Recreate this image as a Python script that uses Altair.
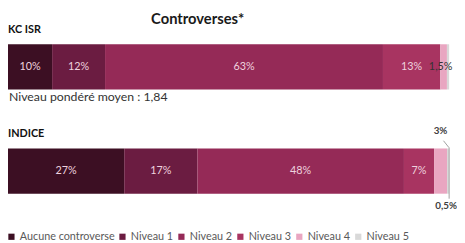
import altair as alt
import pandas as pd

rows = ["KC ISR", "INDICE"]
categories = ["Aucune controverse", "Niveau 1", "Niveau 2", "Niveau 3", "Niveau 4", "Niveau 5"]
kc_values = [10, 12, 63, 13, 1.5, 0.5]
indice_values = [27, 17, 48, 7, 3, 0.5]
kc_labels = ["10%", "12%", "63%", "13%", "1,5%", ""]
indice_labels = ["27%", "17%", "48%", "7%", "3%", "0,5%"]
colors = ["#3c0f23", "#6b1c41", "#952a57", "#a83461", "#e9a6c1", "#d9d9d9"]
title_text = "Controverses*"
note_text = "Niveau pondéré moyen : 1,84"

records = []
for row, vals, labs in [(rows[0], kc_values, kc_labels), (rows[1], indice_values, indice_labels)]:
    for i, (c, v, l) in enumerate(zip(categories, vals, labs)):
        records.append({"row": row, "cat": c, "order": i, "value": v, "label": l})
df = pd.DataFrame(records)

FONT = "Lato"

xs = alt.Scale(domain=[0, 1], nice=False, zero=False)
ys = alt.Scale(domain=rows, paddingInner=0.566, paddingOuter=0.391, align=0.42)
Y = alt.Y("row:N", scale=ys, axis=None)

base = (
    alt.Chart(df)
    .transform_joinaggregate(total="sum(value)", groupby=["row"])
    .transform_window(cum="sum(value)", sort=[alt.SortField("order")], groupby=["row"], frame=[None, 0])
    .transform_calculate(
        start="(datum.cum - datum.value) / datum.total",
        end="datum.cum / datum.total",
        mid="(datum.cum - datum.value / 2) / datum.total",
    )
)

bars = base.mark_bar().encode(
    x=alt.X("start:Q", scale=xs, axis=None),
    x2="end:Q",
    y=Y,
    color=alt.Color(
        "cat:N",
        scale=alt.Scale(domain=categories, range=colors),
        sort=categories,
        legend=alt.Legend(title=None),
    ),
)

main_labels = base.transform_filter("datum.order <= 3").mark_text(
    align="center", baseline="middle", font=FONT, fontSize=11, color="#eed2de"
).encode(x=alt.X("mid:Q", scale=xs), y=Y, text="label:N")

kc_small = base.transform_filter("datum.order == 4 && datum.row == 'KC ISR'").mark_text(
    align="center", baseline="middle", font=FONT, fontSize=11, color="#333333", dx=-3
).encode(x=alt.X("mid:Q", scale=xs), y=Y, text="label:N")

ind_n4 = base.transform_filter("datum.order == 4 && datum.row == 'INDICE'").mark_text(
    align="center", baseline="middle", font=FONT, fontSize=10, fontWeight="bold", color="#404040", dx=0, dy=-41
).encode(x=alt.X("mid:Q", scale=xs), y=Y, text="label:N")

ind_n5 = base.transform_filter("datum.order == 5 && datum.row == 'INDICE'").mark_text(
    align="left", baseline="middle", font=FONT, fontSize=10, fontWeight="bold", color="#404040", dx=-13, dy=36
).encode(x=alt.X("mid:Q", scale=xs), y=Y, text="label:N")

leader_diag = base.transform_filter("datum.order == 4 && datum.row == 'INDICE'").mark_rule(
    color="#a0a0a0", strokeWidth=1, xOffset=3, x2Offset=2
).encode(x=alt.X("mid:Q", scale=xs), x2="end:Q", y=alt.value(133), y2=alt.value(140))

leader_vert = base.transform_filter("datum.order == 5 && datum.row == 'INDICE'").mark_rule(
    color="#a0a0a0", strokeWidth=1
).encode(x=alt.X("end:Q", scale=xs), y=alt.value(140), y2=alt.value(192))

row_df = pd.DataFrame({"row": rows, "name": rows})
row_labels = alt.Chart(row_df).mark_text(
    align="left", baseline="middle", font=FONT, fontSize=11, fontWeight="bold", color="#111111", dy=-37.5
).encode(x=alt.value(0), y=Y, text="name:N")

note = alt.Chart(pd.DataFrame({"row": [rows[0]], "t": [note_text]})).mark_text(
    align="left", baseline="middle", font=FONT, fontSize=12.5, color="#333333", dy=31
).encode(x=alt.value(1), y=Y, text="t:N")

title = alt.Chart(pd.DataFrame({"t": [title_text]})).mark_text(
    align="center", baseline="middle", font=FONT, fontSize=15, fontWeight="bold", color="#1a1a1a"
).encode(x=alt.value(193), y=alt.value(9), text="t:N")

chart = (
    alt.layer(bars, main_labels, kc_small, ind_n4, ind_n5, leader_diag, leader_vert, row_labels, note, title)
    .properties(
        width=449,
        height=235,
        autosize=alt.AutoSizeParams(type="none"),
        padding={"left": 0, "top": 0, "right": 8, "bottom": 0},
    )
    .configure_view(stroke=None)
    .configure_legend(
        orient="none",
        legendX=-2,
        legendY=225,
        direction="horizontal",
        symbolType="square",
        symbolSize=40,
        symbolStrokeWidth=0,
        labelFont=FONT,
        labelFontSize=11,
        labelColor="#595959",
        labelOffset=3,
        columnPadding=2,
    )
)

chart.save("out.html", embed_options={"renderer": "svg", "actions": False})
